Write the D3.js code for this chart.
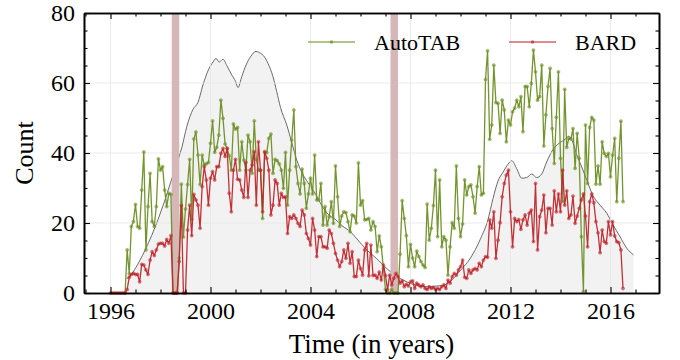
<!DOCTYPE html>
<html><head><meta charset="utf-8">
<script src="https://cdn.jsdelivr.net/npm/d3@7"></script>
<style>
html,body{margin:0;padding:0;background:#fff;}
svg text{font-family:"Liberation Serif","Times New Roman",serif;fill:#000;}
</style></head>
<body><svg id="c" width="680" height="360"></svg>
<script>
// ---- data (monthly counts) ----
const redStart = 1996.0;          // first BARD month
const greenStart = 1996 + 7/12;   // first AutoTAB month
const redValues = [
 0,0,0,0,0,0,0,0, 1,4.5,5.3,5.6,
 5.3,5.3,3.2,8.2,8,6.6,5.3,9.4,11.8,10.7,12.3,14,
 14.2,14.2,13.4,15.3,14.2,16.4,0,0,0,9,25,0,
 0,18,25.1,16.4,28.2,26.6,25.1,18.5,30.4,36.1,32.3,25.1,
 32.8,34.7,32.3,36.1,36.1,39.9,41.3,39,41.3,28.5,
 23.2,35.1,38.2,32.5,32.3,29.4,27.3,37.3,27.3,35.1,36.6,40.4,25.1,43.2,35.1,23.2,40.4,38.5,35.1,22.3,
 25.1,32.3,31.3,25.1,28.5,27.3,27.5,17,21.8,21.3,22.3,21.3,19.9,19,23.7,22.3,17,15.6,13.7,21.3,
 18,10.4,16.1,16.1,13.2,13.2,12.8,18,17,14.2,
 11.3,9.4,7.5,9,12.3,9.9,14.2,8.5,11.8,4.7,4.7,9.4,7,5.1,12.3,14.2,4.9,13.7,5,5.1,4.2,6,3.7,8,
 5,0.9,5.1,2.3,4.2,5.6,4.7,2.8,3.5,1.8,2.5,2,3.2,3.5,1.3,2.8,2.3,1.8,2.3,1.3,1,1.8,1.3,1.6,
 1,1.3,1,1.8,2.3,1.3,3.7,2.8,4.7,5.6,
 5.1,6.6,7.5,9.4,4.5,4.2,6.6,5.6,6.6,7,
 6.6,8.5,7.5,9.4,10.4,10.2,20.9,18.5,23.2,9.9,
 15.1,20.1,27.5,31.3,33.7,35.1,23.2,13.2,21.3,20.4,
 21,18.2,20.9,22.3,19.4,22.8,23.7,14.7,31.3,12.3,21.8,
 23.7,28,17.2,24.2,24.2,19.4,29.2,23.2,28.3,23.2,35.1,25.1,29.2,21.3,22.3,27.7,19.9,22,24.2,26.6,
 28.3,22,13.2,26.1,28.3,25.8,20.4,17.2,11.5,18,14.7,14.2,20.4,16.6,20.4,16.3,14.7,14.4,12.3,1.3
];
const greenValues = [
 0,12.3,5.5,19,20.4,
 25.3,19,18.5,29.4,40.3,12.3,24.7,34.2,20.4,19,24.7,38.3,
 35.1,36.1,29.4,24.7,28.5,28.2,0,0,0,10,31.1,16,
 24,31,38.2,21,44,46,39.4,31,39.4,36.6,36.9,37.3,
 42.8,49.2,40.2,41.6,45.1,55.1,49.9,42.6,41.3,39.2,
 35.1,48.3,46.8,47.3,35.1,43.2,38,35.1,45.1,43.2,34.2,49.2,38.2,35.1,35.1,21.3,40.1,40.1,44.2,45.4,
 34.2,38.2,37.8,36.9,35.1,29.9,40.2,25.1,35.1,43.7,52.3,36.1,31.3,28.3,35.4,31.3,24.2,28.3,32.8,28.3,
 39.4,26.6,26.6,31.3,19.4,24.7,19.4,21.8,26.1,19.9,
 36.3,27.5,19,22,23.2,23,20.4,17.5,22.3,22,20,37.2,25.1,26.4,20.9,21,21.3,18,20.4,19,11.8,16.3,13.2,7,
 1,0,0,1,0,0,0,11.1,26.4,21.3,16.4,7.5,13.9,10,7.5,12,10.4,9,8,7.3,25.4,15.1,18.5,25,
 35.1,16.1,32.3,13.2,16.1,15.1,5.1,13.2,20.1,18.5,
 36.3,21.3,16.1,19.7,32.3,28,30.4,30.9,27.5,22.8,
 30.4,36.1,28,28.5,61,69.2,43.9,48,65.1,54.4,
 54.2,45.6,55.1,52.3,43.2,49.4,48,51.8,52.8,55.1,
 53.2,56.1,46.1,59,59,53.2,59.9,69.4,63.2,55.1,
 56.1,65.1,
 42,50.9,59,64.2,47,37,50.2,63.2,38.5,26.1,58.2,41.6,44.2,44,47,35.6,45.6,38.5,16.1,0.4,
 48,31.3,47.3,50.2,49.4,31.1,36.3,31.1,43.2,39.9,39,39.9,33.2,39.4,44.2,26.1,38.5,49.1,26.1
];
// smoothed background curve (knots)
const bgYears = [1996.65,1996.9,1997.15,1997.4,1997.65,1997.9,1998.15,1998.4,1998.65,1998.85,1999.05,1999.3,1999.5,1999.7,1999.9,
 2000.1,2000.22,2000.35,2000.5,2000.65,2000.85,2001.0,2001.1,2001.25,2001.42,2001.6,2001.82,2002.0,2002.12,2002.3,2002.5,2002.65,2002.8,
 2003.05,2003.25,2003.45,2003.65,2003.9,2004.2,2004.45,2004.7,2005.0,2005.3,2005.6,2005.85,2006.25,2006.65,2007.05,2007.45,2007.85,
 2008.25,2008.65,2009.05,2009.3,2009.65,2010.0,2010.4,2010.8,2011.1,2011.3,2011.5,2011.7,2011.9,2012.05,2012.25,2012.45,2012.65,2012.85,
 2013.05,2013.25,2013.45,2013.7,2013.95,2014.2,2014.32,2014.45,2014.65,2014.85,2015.05,2015.3,2015.58,2015.85,2016.1,2016.38,2016.65,2016.92];
const bgValues = [4,6,9,12.5,16.5,21,26,31.5,37,41.5,47.5,52.5,54.5,59.5,63.5,
 66,67,66,66.8,65,62.3,60.5,58.7,61.8,65.1,67.5,69,68.5,67.8,65.6,61.8,57.5,53,
 48,43,38,34.5,31.5,28.3,25,22.5,21,19,17.5,15.5,12.3,9.8,7,4.7,3.2,
 2.2,1.8,2,2.2,3.7,6.5,10,15.5,21,27,32,34.5,36.8,37.8,35.5,32.8,33,34,
 33,34,37.5,41,42.8,44,44.8,43.8,39.5,36,32.3,27.8,25.1,22.8,19.5,16.1,12.8,10.9];
const spans = [[1998.45,1998.75],[2007.2,2007.5]];
const xTicks = [1996,2000,2004,2008,2012,2016];
const yTicks = [0,20,40,60,80];
const seriesNames = ["AutoTAB","BARD"];
const seriesColors = ["#6b8e23","#c0262d"];

// ---- drawing ----
const svg = d3.select("#c");
const L=84,R=659,T=13,B=293;
const x = d3.scaleLinear().domain([1994.94,2017.94]).range([L,R]);
const y = d3.scaleLinear().domain([0,80]).range([B,T]);

const bg = bgYears.map((t,i)=>({t,v:bgValues[i]}));
svg.append("path").datum(bg)
  .attr("d", d3.area().x(d=>x(d.t)).y0(y(0)).y1(d=>y(d.v)).curve(d3.curveMonotoneX))
  .attr("fill","#f2f2f2");
svg.append("path").datum(bg)
  .attr("d", d3.line().x(d=>x(d.t)).y(d=>y(d.v)).curve(d3.curveMonotoneX))
  .attr("fill","none").attr("stroke","#5a5a5a").attr("stroke-width",0.9);

// grid
const grid = svg.append("g").attr("stroke","#e6e6e6").attr("stroke-width",0.8);
xTicks.forEach(t=>grid.append("line").attr("x1",x(t)).attr("x2",x(t)).attr("y1",T).attr("y2",B));
[20,40,60].forEach(v=>grid.append("line").attr("x1",L).attr("x2",R).attr("y1",y(v)).attr("y2",y(v)));

// shaded spans
spans.forEach(s=>svg.append("rect").attr("x",x(s[0])).attr("width",x(s[1])-x(s[0]))
  .attr("y",T).attr("height",B-T).attr("fill","#d6b6b6"));

function drawSeries(vals,start,color){
  const pts = vals.map((v,i)=>({t:start+i/12,v}));
  svg.append("path").datum(pts)
    .attr("d", d3.line().x(d=>x(d.t)).y(d=>y(d.v)))
    .attr("fill","none").attr("stroke",color).attr("stroke-width",1.3)
    .attr("stroke-opacity",0.95).attr("stroke-linejoin","round");
  svg.append("g").selectAll("circle").data(pts).join("circle")
    .attr("cx",d=>x(d.t)).attr("cy",d=>y(d.v)).attr("r",1.6)
    .attr("fill",color).attr("fill-opacity",0.55)
    .attr("stroke",color).attr("stroke-opacity",0.7).attr("stroke-width",0.5);
}
drawSeries(greenValues,greenStart,seriesColors[0]);
drawSeries(redValues,redStart,seriesColors[1]);

// axes / frame
const fs = 24;
svg.append("g").attr("transform",`translate(0,${B})`)
  .call(d3.axisBottom(x).tickValues(xTicks).tickFormat(d3.format("d")).tickSize(-6).tickSizeOuter(0).tickPadding(9));
svg.append("g").attr("transform",`translate(0,${T})`)
  .call(d3.axisTop(x).tickValues(xTicks).tickFormat("").tickSize(-6).tickSizeOuter(0));
svg.append("g").attr("transform",`translate(${L},0)`)
  .call(d3.axisLeft(y).tickValues(yTicks).tickSize(-6).tickSizeOuter(0).tickPadding(9));
svg.append("g").attr("transform",`translate(${R},0)`)
  .call(d3.axisRight(y).tickValues(yTicks).tickFormat("").tickSize(-6).tickSizeOuter(0));
const minorX = d3.range(1995,2018).filter(t=>!xTicks.includes(t));
const minorY = d3.range(5,80,5).filter(v=>v%20!==0);
svg.append("g").attr("transform",`translate(0,${B})`).call(d3.axisBottom(x).tickValues(minorX).tickFormat("").tickSize(-3.5).tickSizeOuter(0));
svg.append("g").attr("transform",`translate(0,${T})`).call(d3.axisTop(x).tickValues(minorX).tickFormat("").tickSize(-3.5).tickSizeOuter(0));
svg.append("g").attr("transform",`translate(${L},0)`).call(d3.axisLeft(y).tickValues(minorY).tickFormat("").tickSize(-3.5).tickSizeOuter(0));
svg.append("g").attr("transform",`translate(${R},0)`).call(d3.axisRight(y).tickValues(minorY).tickFormat("").tickSize(-3.5).tickSizeOuter(0));
svg.selectAll(".domain").attr("stroke","#000").attr("stroke-width",1.6);
svg.selectAll(".tick line").attr("stroke","#000").attr("stroke-width",1.1);
svg.selectAll(".tick text").attr("font-size",fs).attr("font-family",'"Liberation Serif","Times New Roman",serif');

// axis labels
svg.append("text").attr("x",(L+R)/2).attr("y",353).attr("text-anchor","middle")
  .attr("font-size",27).text("Time (in years)");
svg.append("text").attr("transform",`translate(33,${(T+B)/2}) rotate(-90)`).attr("text-anchor","middle")
  .attr("font-size",26).text("Count");

// legend
const legX = [308,509];
seriesNames.forEach((n,i)=>{
  const g = svg.append("g");
  g.append("line").attr("x1",legX[i]).attr("x2",legX[i]+47).attr("y1",42).attr("y2",42)
    .attr("stroke",seriesColors[i]).attr("stroke-width",1.6).attr("stroke-opacity",0.7);
  g.append("circle").attr("cx",legX[i]+23.5).attr("cy",42).attr("r",1.8)
    .attr("fill",seriesColors[i]).attr("fill-opacity",0.7);
  g.append("text").attr("x",legX[i]+66).attr("y",50).attr("font-size",22).text(n);
});
</script></body></html>
